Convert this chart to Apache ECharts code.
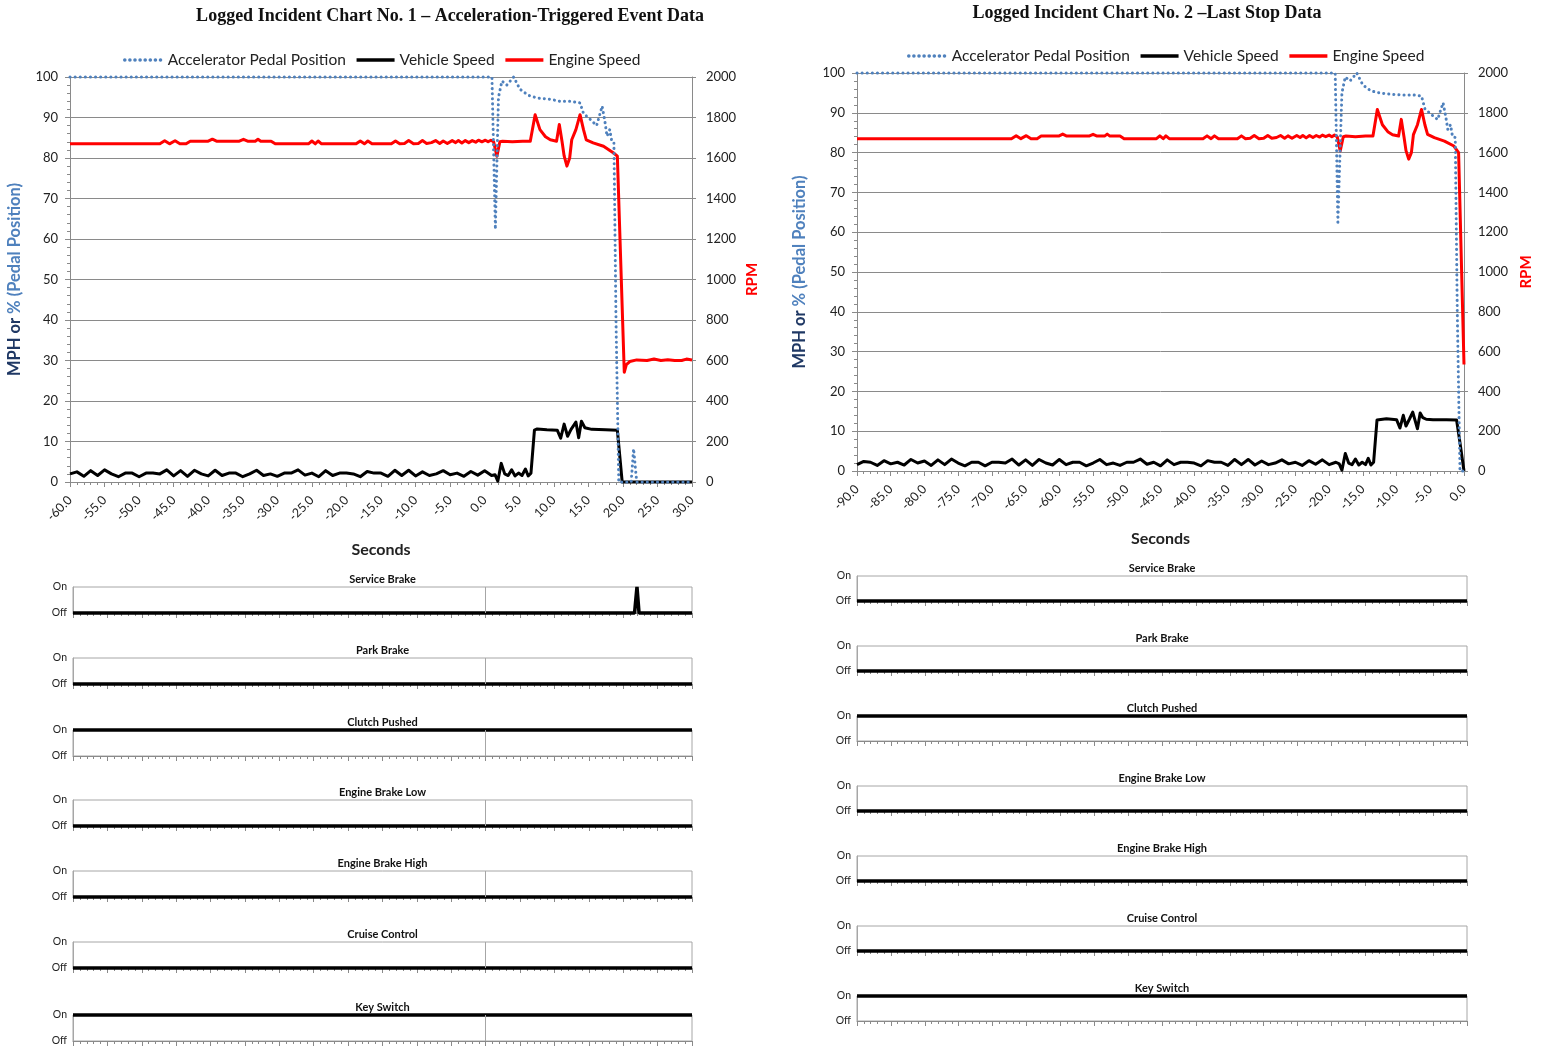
<!DOCTYPE html>
<html>
<head>
<meta charset="utf-8">
<script src="https://cdn.jsdelivr.net/npm/echarts@6/dist/echarts.min.js"></script>
<style>
html, body { margin: 0; padding: 0; background: #fff; }
#main { width: 1544px; height: 1048px; }
</style>
</head>
<body>
<div id="main"></div>
<script>
// ---- data ----
var seriesNames = ['Accelerator Pedal Position', 'Vehicle Speed', 'Engine Speed'];
var signalNames = ['Service Brake', 'Park Brake', 'Clutch Pushed', 'Engine Brake Low', 'Engine Brake High', 'Cruise Control', 'Key Switch'];

// chart 1 : acceleration-triggered event, -60 .. 30 s
var pedalT1 = [-60, 1.05, 1.55, 2.0, 2.5, 3.2, 4.2, 5.1, 6.3, 7.6, 9.5, 10.9, 12.5, 13.8, 14.3, 15.3, 16.2, 16.7, 17.0, 17.4, 17.7, 18.1, 18.4, 18.7, 19.0, 19.4, 21.2, 21.55, 22.0, 30];
var pedal1  = [100, 100, 62.4, 95, 99, 98, 100, 97, 95.5, 94.8, 94.5, 94, 94, 93.6, 91, 89.5, 88, 91, 92.8, 89, 85.4, 87, 84, 83.7, 40, 0, 0, 8.2, 0, 0];

var speedT1 = [-60, -59, -58, -57, -56, -55, -54, -53, -52, -51, -50, -49, -48, -47, -46, -45, -44, -43, -42, -41,
  -40, -39, -38, -37, -36, -35, -34, -33, -32, -31, -30, -29, -28, -27, -26, -25, -24, -23, -22, -21,
  -20, -19, -18, -17, -16, -15, -14, -13, -12, -11, -10, -9, -8, -7, -6, -5, -4, -3, -2, -1, 0, 1,
  1.5, 1.9, 2.4, 2.9, 3.4, 3.9, 4.4, 4.9, 5.4, 5.9, 6.3, 6.7, 7.2, 7.6, 9.0, 10.5, 11.0, 11.5, 12.0, 12.5,
  13.2, 13.6, 14.0, 14.5, 15.5, 17.5, 19.2, 19.9, 30];
var speed1 = [2.0, 2.5, 1.4, 2.8, 1.6, 3.0, 2.0, 1.3, 2.2, 2.2, 1.3, 2.2, 2.2, 2.0, 3.0, 1.5, 2.8, 1.4, 2.9, 2.0,
  1.5, 2.9, 1.6, 2.2, 2.2, 1.3, 2.0, 2.9, 1.6, 2.0, 1.4, 2.2, 2.2, 3.0, 1.7, 2.2, 1.3, 2.8, 1.6, 2.2,
  2.2, 2.0, 1.3, 2.6, 2.2, 2.2, 1.4, 2.9, 1.6, 2.9, 1.5, 2.5, 1.6, 2.0, 2.8, 1.8, 2.2, 1.4, 2.6, 1.7, 2.8, 1.6,
  1.8, 0.2, 4.6, 2.0, 1.6, 3.0, 1.5, 2.2, 1.6, 3.2, 1.5, 2.2, 12.8, 13.1, 12.9, 12.8, 10.8, 14.3, 11.3, 13.0,
  14.8, 10.9, 15.0, 13.4, 13.0, 12.9, 12.8, 0, 0];

var rpmT1 = [-60, -47, -46.3, -45.6, -44.8, -44.1, -43.2, -42.6, -40.0, -39.4, -38.8, -35.5, -34.9, -34.3, -33.2, -32.8, -32.4, -30.9, -30.3,
  -25.5, -25.0, -24.5, -24.1, -23.6, -18.6, -18.0, -17.4, -16.9, -16.3, -13.5, -12.9, -12.3, -11.6, -11.0, -10.3, -9.6, -9.0, -8.4,
  -7.7, -7.1, -6.5, -6.0, -5.4, -4.7, -4.2, -3.8, -3.3, -2.8, -2.3, -1.8, -1.3, -0.9, -0.4, 0.1, 0.5, 0.9, 1.3, 1.77, 2.2, 2.6,
  4.0, 5.5, 6.6, 7.3, 8.0, 8.8, 9.5, 10.4, 10.8, 11.2, 11.5, 11.9, 12.3, 12.6, 13.2, 13.8, 14.3, 14.7, 15.7, 17.2, 18.6, 19.2,
  20.2, 20.5, 21.0, 22.0, 23.5, 24.5, 25.5, 26.5, 27.5, 28.5, 29.2, 30];
var rpm1 = [1670, 1670, 1685, 1670, 1685, 1670, 1670, 1683, 1683, 1693, 1683, 1683, 1692, 1683, 1683, 1693, 1683, 1683, 1670,
  1670, 1684, 1670, 1684, 1670, 1670, 1684, 1670, 1684, 1670, 1670, 1684, 1670, 1672, 1686, 1670, 1672, 1686, 1672,
  1676, 1686, 1672, 1684, 1672, 1686, 1676, 1686, 1674, 1686, 1676, 1686, 1678, 1688, 1680, 1688, 1680, 1688, 1680, 1609, 1680, 1683,
  1680, 1683, 1683, 1814, 1740, 1705, 1690, 1683, 1765, 1680, 1610, 1560, 1600, 1690, 1740, 1814, 1740, 1690, 1675, 1658, 1626, 1609,
  542, 580, 595, 603, 600, 607, 600, 604, 600, 600, 607, 603];

// chart 2 : last stop, -90 .. 0 s
var pedalT2 = [-90, -19.1, -18.7, -18.1, -17.6, -16.9, -15.9, -15.0, -13.8, -12.5, -10.6, -9.2, -7.6, -6.3, -5.8, -4.8, -3.9, -3.4, -3.1, -2.7, -2.4, -2.0, -1.7, -1.3, -1.0, -0.6, 0];
var pedal2  = [100, 100, 62.5, 95, 99, 98, 100, 97, 95.5, 95, 94.6, 94.5, 94.5, 94.2, 91, 89.5, 88.3, 91, 92.5, 89, 85.8, 87, 84, 83.8, 40, 0, 0];

var speedT2 = [-90, -89, -88, -87, -86, -85, -84, -83, -82, -81, -80, -79, -78, -77, -76, -75, -74, -73, -72, -71,
  -70, -69, -68, -67, -66, -65, -64, -63, -62, -61, -60, -59, -58, -57, -56, -55, -54, -53, -52, -51,
  -50, -49, -48, -47, -46, -45, -44, -43, -42, -41, -40, -39, -38, -37, -36, -35, -34, -33, -32, -31,
  -30, -29, -28, -27, -26, -25, -24, -23, -22, -21, -20, -19,
  -18.5, -18.1, -17.6, -17.1, -16.6, -16.1, -15.6, -15.1, -14.6, -14.2, -13.8, -13.4, -12.9, -11.5, -10.0, -9.5,
  -9.0, -8.6, -8.1, -7.6, -6.9, -6.5, -6.1, -5.6, -4.6, -2.6, -1.1, -0.5, 0];
var speed2 = [1.6, 2.4, 2.2, 1.4, 2.6, 1.8, 2.2, 1.5, 2.9, 2.0, 2.5, 1.4, 2.8, 1.6, 3.0, 2.0, 1.3, 2.2, 2.2, 1.3,
  2.2, 2.2, 2.0, 3.0, 1.5, 2.8, 1.4, 2.9, 2.0, 1.5, 2.9, 1.6, 2.2, 2.2, 1.3, 2.0, 2.9, 1.6, 2.0, 1.4,
  2.2, 2.2, 3.0, 1.7, 2.2, 1.3, 2.8, 1.6, 2.2, 2.2, 2.0, 1.3, 2.6, 2.2, 2.2, 1.4, 2.9, 1.6, 2.9, 1.5,
  2.5, 1.6, 2.0, 2.8, 1.8, 2.2, 1.4, 2.6, 1.7, 2.8, 1.6, 2.2,
  1.8, 0.2, 4.4, 2.0, 1.6, 3.0, 1.5, 2.2, 1.6, 3.2, 1.5, 2.2, 12.8, 13.1, 12.9, 10.8,
  14.0, 11.3, 13.0, 14.8, 10.6, 14.6, 13.4, 13.0, 12.9, 12.9, 12.8, 6.0, 0];

var rpmT2 = [-90, -67.1, -66.4, -65.7, -64.9, -64.2, -63.3, -62.7, -60.1, -59.5, -58.9, -55.6, -55.0, -54.4, -53.3, -52.9, -52.5, -51.0, -50.4,
  -45.6, -45.1, -44.6, -44.2, -43.7, -38.7, -38.1, -37.5, -37.0, -36.4, -33.6, -33.0, -32.4, -31.7, -31.1, -30.4, -29.7, -29.1, -28.5,
  -27.8, -27.2, -26.6, -26.1, -25.5, -24.8, -24.3, -23.9, -23.4, -22.9, -22.4, -21.9, -21.4, -21.0, -20.5, -20.0, -19.6, -19.2, -18.8,
  -18.35, -17.9, -17.5, -16.1, -14.6, -13.5, -12.85, -12.1, -11.3, -10.6, -9.7, -9.3, -8.9, -8.6, -8.2, -7.8, -7.5, -6.9, -6.3, -5.8,
  -5.4, -4.4, -2.9, -1.5, -0.8, 0];
var rpm2 = [1670, 1670, 1685, 1670, 1685, 1670, 1670, 1683, 1683, 1693, 1683, 1683, 1692, 1683, 1683, 1693, 1683, 1683, 1670,
  1670, 1684, 1670, 1684, 1670, 1670, 1684, 1670, 1684, 1670, 1670, 1684, 1670, 1672, 1686, 1670, 1672, 1686, 1672,
  1676, 1686, 1672, 1684, 1672, 1686, 1676, 1686, 1674, 1686, 1676, 1686, 1678, 1688, 1680, 1688, 1680, 1688, 1680,
  1608, 1680, 1683, 1680, 1683, 1683, 1817, 1740, 1705, 1690, 1683, 1767, 1680, 1610, 1567, 1600, 1690, 1740, 1817, 1740,
  1692, 1675, 1658, 1633, 1600, 535];

// on/off switches (0 = Off, 1 = On)
var signalStates1 = [0, 0, 1, 0, 0, 0, 1];
var signalStates2 = [0, 0, 1, 0, 0, 0, 1];
var serviceBrakeT1 = [-60, 21.65, 22.0, 22.3, 30];
var serviceBrake1  = [0, 0, 1, 0, 0];

// ---- styling ----
var FONT = 'Lato, "Open Sans", sans-serif';
var SERIF = '"Liberation Serif", "DejaVu Serif", serif';
var PEDAL_BLUE = '#4f81bd';
var AXIS_GREY = '#8a8a8a';

var grids = [], xAxes = [], yAxes = [], series = [], legends = [], graphics = [];

function pairs(t, v) {
	var out = [];
	for (var i = 0; i < t.length; i++) {
		out.push([t[i], v[i]]);
	}
	return out;
}

function addText(x, y, text, size, family, color) {
	graphics.push({
		type: 'text', x: x, y: y, silent: true,
		style: {
			text: text, fontSize: size, fontWeight: 'bold', fontFamily: family, fill: color || '#000',
			align: 'center', verticalAlign: 'middle', textAlign: 'center', textVerticalAlign: 'middle'
		}
	});
}

/**
 * main trend chart: pedal % / mph on left axis, rpm on right axis
 */
function addMainChart(cfg) {
	var gi = grids.length, xi = xAxes.length, yi = yAxes.length;
	grids.push({ left: cfg.left, top: cfg.top, width: cfg.width, height: cfg.height });

	xAxes.push({
		type: 'value', gridIndex: gi, min: cfg.xMin, max: cfg.xMax, interval: 5,
		name: 'Seconds', nameLocation: 'middle', nameGap: 60,
		nameTextStyle: { fontFamily: FONT, fontSize: 16, fontWeight: 'bold', color: '#222' },
		axisLine: { onZero: false, lineStyle: { color: AXIS_GREY } },
		axisTick: { show: true, length: 5, lineStyle: { color: AXIS_GREY } },
		minorTick: { show: true, splitNumber: 5, length: 3, lineStyle: { color: AXIS_GREY } },
		splitLine: { show: false },
		axisLabel: {
			rotate: 45, margin: 16, fontFamily: FONT, fontSize: 12.5, color: '#222',
			formatter: function (v) { return v.toFixed(1); }
		}
	});

	yAxes.push({
		type: 'value', gridIndex: gi, position: 'left', min: 0, max: 100, interval: 10,
		name: '{a|MPH or }{b|% (Pedal Position)}', nameLocation: 'middle', nameRotate: 90, nameGap: cfg.leftNameGap,
		nameTextStyle: {
			rich: {
				a: { fontFamily: FONT, fontSize: 16.5, fontWeight: 'bold', color: '#1f3864' },
				b: { fontFamily: FONT, fontSize: 16.5, fontWeight: 'bold', color: PEDAL_BLUE }
			}
		},
		axisLine: { show: true, onZero: false, lineStyle: { color: AXIS_GREY } },
		axisTick: { show: true, length: 5, lineStyle: { color: AXIS_GREY } },
		minorTick: { show: true, splitNumber: 5, length: 3, lineStyle: { color: AXIS_GREY } },
		splitLine: { show: true, lineStyle: { color: AXIS_GREY, width: 1 } },
		axisLabel: { margin: 12, fontFamily: FONT, fontSize: 13, color: '#222' }
	});

	yAxes.push({
		type: 'value', gridIndex: gi, position: 'right', min: 0, max: 2000, interval: 200,
		name: 'RPM', nameLocation: 'middle', nameRotate: 90, nameGap: cfg.rightNameGap,
		nameTextStyle: { fontFamily: FONT, fontSize: 15, fontWeight: 'bold', color: '#ff0000' },
		axisLine: { show: true, onZero: false, lineStyle: { color: AXIS_GREY } },
		axisTick: { show: true, length: 4, lineStyle: { color: AXIS_GREY } },
		splitLine: { show: false },
		axisLabel: {
			margin: 14, fontFamily: FONT, fontSize: 13, color: '#222',
			formatter: function (v) { return String(v); }
		}
	});

	series.push({
		name: seriesNames[1], type: 'line', xAxisIndex: xi, yAxisIndex: yi,
		data: pairs(cfg.speedT, cfg.speed), showSymbol: false, symbol: 'none', clip: false, z: 3,
		itemStyle: { color: '#000' }, lineStyle: { color: '#000', width: 3, join: 'round' }
	});
	series.push({
		name: seriesNames[2], type: 'line', xAxisIndex: xi, yAxisIndex: yi + 1,
		data: pairs(cfg.rpmT, cfg.rpm), showSymbol: false, symbol: 'none', clip: false, z: 2,
		itemStyle: { color: '#ff0000' }, lineStyle: { color: '#ff0000', width: 3, join: 'round' }
	});
	series.push({
		name: seriesNames[0], type: 'line', xAxisIndex: xi, yAxisIndex: yi,
		data: pairs(cfg.pedalT, cfg.pedal), showSymbol: false, symbol: 'none', clip: false, z: 4,
		itemStyle: { color: PEDAL_BLUE }, lineStyle: { color: PEDAL_BLUE, width: 3, type: [0.1, 5], cap: 'round' }
	});

	legends.push({
		data: seriesNames, left: cfg.legendLeft, top: cfg.legendTop, selectedMode: false,
		itemWidth: 38, itemHeight: 12, itemGap: 9,
		itemStyle: { opacity: 0 },
		lineStyle: { width: 3.5 },
		textStyle: { fontFamily: FONT, fontSize: 15.5, color: '#222' }
	});

	addText(cfg.titleX, cfg.titleY, cfg.title, 18, SERIF, '#111');
}

/**
 * small on/off strip under the main chart
 */
function addSignal(left, top, width, height, xMin, xMax, name, data, zeroLine) {
	var gi = grids.length, xi = xAxes.length, yi = yAxes.length;
	grids.push({ left: left, top: top, width: width, height: height, show: true, borderColor: '#a6a6a6', borderWidth: 1 });
	xAxes.push({
		type: 'value', gridIndex: gi, min: xMin, max: xMax, interval: 5,
		axisLine: { onZero: false, lineStyle: { color: AXIS_GREY } },
		axisTick: { show: true, length: 5, lineStyle: { color: AXIS_GREY } },
		minorTick: { show: true, splitNumber: 5, length: 3, lineStyle: { color: AXIS_GREY } },
		splitLine: { show: false },
		axisLabel: { show: false }
	});
	yAxes.push({
		type: 'value', gridIndex: gi, min: 0, max: 1, interval: 1,
		axisLine: { show: true, onZero: false, lineStyle: { color: '#a6a6a6' } },
		axisTick: { show: false },
		splitLine: { show: false },
		axisLabel: {
			margin: 6, fontFamily: FONT, fontSize: 10.5, color: '#222',
			formatter: function (v) { return v ? 'On' : 'Off'; }
		}
	});
	var s = {
		type: 'line', xAxisIndex: xi, yAxisIndex: yi, data: data,
		showSymbol: false, symbol: 'none', clip: false, z: 3,
		itemStyle: { color: '#000' }, lineStyle: { color: '#000', width: 3.5 }
	};
	if (zeroLine) {
		s.markLine = {
			silent: true, symbol: 'none', label: { show: false },
			lineStyle: { color: '#a6a6a6', type: 'solid', width: 1 },
			data: [{ xAxis: 0 }]
		};
	}
	series.push(s);
	addText(left + width / 2, top - 8, name, 11, FONT, '#111');
}

addMainChart({
	left: 70, top: 77, width: 622, height: 405, xMin: -60, xMax: 30,
	leftNameGap: 47, rightNameGap: 53, legendLeft: 118, legendTop: 47,
	title: 'Logged Incident Chart No. 1 \u2013 Acceleration-Triggered Event Data', titleX: 450, titleY: 16,
	pedalT: pedalT1, pedal: pedal1, speedT: speedT1, speed: speed1, rpmT: rpmT1, rpm: rpm1
});
addMainChart({
	left: 857, top: 73, width: 607, height: 398, xMin: -90, xMax: 0,
	leftNameGap: 49, rightNameGap: 55, legendLeft: 902, legendTop: 43,
	title: 'Logged Incident Chart No. 2 \u2013Last Stop Data', titleX: 1147, titleY: 13,
	pedalT: pedalT2, pedal: pedal2, speedT: speedT2, speed: speed2, rpmT: rpmT2, rpm: rpm2
});

var leftSignalTops = [587, 658, 730, 800, 871, 942, 1015];
var rightSignalTops = [576, 646, 716, 786, 856, 926, 996];
for (var i = 0; i < signalNames.length; i++) {
	var d1 = i === 0 ? pairs(serviceBrakeT1, serviceBrake1) : [[-60, signalStates1[i]], [30, signalStates1[i]]];
	addSignal(73, leftSignalTops[i], 619, 26, -60, 30, signalNames[i], d1, true);
	var d2 = [[-90, signalStates2[i]], [0, signalStates2[i]]];
	addSignal(857, rightSignalTops[i], 610, 25, -90, 0, signalNames[i], d2, false);
}

var chart = echarts.init(document.getElementById('main'));
chart.setOption({
	animation: false,
	backgroundColor: '#fff',
	grid: grids,
	xAxis: xAxes,
	yAxis: yAxes,
	legend: legends,
	graphic: graphics,
	series: series
});
</script>
</body>
</html>
